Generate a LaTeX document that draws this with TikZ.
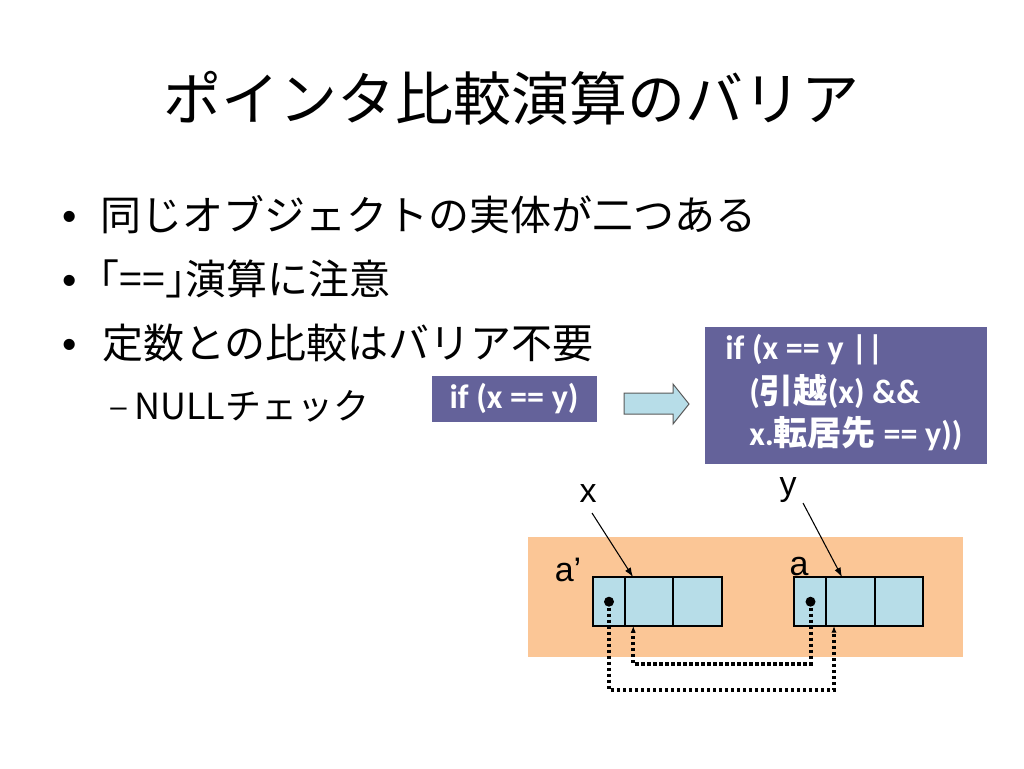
\documentclass[tikz,border=0pt]{standalone}
\usepackage{fontspec}
\setmainfont{Liberation Sans}
\newfontfamily\jp{Noto Sans CJK JP}
\newfontfamily\jph[RawFeature=+halt]{Noto Sans CJK JP}
\newfontfamily\cb{Carlito}
\newcommand\cbb{\cb\bfseries}
\newcommand\jpb{\jp\bfseries}
\usetikzlibrary{arrows.meta}
\definecolor{purp}{RGB}{100,98,154}
\definecolor{cellblue}{RGB}{183,221,232}
\definecolor{heapor}{RGB}{251,198,150}
\begin{document}
\begin{tikzpicture}[x=0.75pt,y=-0.75pt,
  titletext/.style={anchor=base, inner sep=0, font={\jp\fontsize{43.5pt}{50pt}\selectfont}},
  bullettext/.style={anchor=base west, inner sep=0, font={\jp\fontsize{30.75pt}{36pt}\selectfont}},
  bulletmark/.style={anchor=base, inner sep=0, font={\fontsize{30.75pt}{36pt}\selectfont}},
  subtext/.style={anchor=base west, inner sep=0, font={\jp\fontsize{27pt}{32pt}\selectfont}},
  codebox/.style={fill=purp, inner sep=0, outer sep=0, text=white, font={\cbb\fontsize{25.5pt}{30pt}\selectfont}},
  codetext/.style={anchor=base west, inner sep=0, text=white, font={\cbb\fontsize{25.5pt}{30pt}\selectfont}},
  cell/.style={draw=black, fill=cellblue, line width=0.9pt, inner sep=0, outer sep=0, minimum height=36.75pt},
  dotmark/.style={circle, fill=black, inner sep=0, minimum size=7.5pt},
  lbl/.style={anchor=base, inner sep=0, font={\fontsize{25.5pt}{30pt}\selectfont}},
  ptr/.style={draw=black, line width=0.8pt, -{Latex[length=7pt,width=5pt]}},
  dotptr/.style={draw=black, line width=3pt, dash pattern=on 2.4pt off 2.1pt, -{Latex[length=5pt,width=4pt]}}
]
\useasboundingbox (0,0) rectangle (1024,768);
\fill[white] (0,0) rectangle (1024,768);

% title
\node[titletext] (title) at (511,120) {ポインタ比較演算のバリア};

% bullets
\node[bulletmark] (b1) at (70,230) {•};
\node[bullettext] (t1) at (100,230) {同じオブジェクトの実体が二つある};
\node[bulletmark] (b2) at (70,294) {•};
\node[bullettext, font={\jph\fontsize{30.75pt}{36pt}\selectfont}] (t2) at (99,294) {「==」演算に注意};
\node[bulletmark] (b3) at (70,358) {•};
\node[bullettext] (t3) at (102,358) {定数との比較はバリア不要};
\node[anchor=base, inner sep=0, font={\fontsize{22pt}{26pt}\selectfont}] (d4) at (118.5,416) {–};
\node[subtext] (t4) at (134,419) {NULLチェック};

% code boxes
\node[codebox, minimum width=123.75pt, minimum height=34.5pt] (cond) at (514,399) {if (x == y)};
\draw[fill=cellblue, draw=black!65, line width=0.75pt]
  (624,393) -- (673,393) -- (673,384) -- (689,404) -- (673,424) -- (673,414) -- (624,414) -- cycle;
\node[codebox, minimum width=211.5pt, minimum height=102.75pt] (barrier) at (846,395.5) {};
\node[codetext] (c1) at (725,359) {if (x == y ||};
\node[codetext] (c2) at (749,403) {({\jpb 引越}(x) \&\&};
\node[codetext] (c3) at (749,445) {x.{\jpb 転居先} == y))};

% heap
\node[fill=heapor, inner sep=0, outer sep=0, minimum width=326.25pt, minimum height=90pt] (heap) at (745.5,597) {};

% objects
\node[cell, minimum width=24pt] (l1) at (609,601.5) {};
\node[cell, minimum width=36pt] (l2) at (649,601.5) {};
\node[cell, minimum width=36.75pt] (l3) at (697.5,601.5) {};
\node[cell, minimum width=24pt] (r1) at (810,601.5) {};
\node[cell, minimum width=36.75pt] (r2) at (850.5,601.5) {};
\node[cell, minimum width=36pt] (r3) at (899,601.5) {};

\node[dotmark] (ld) at (609,601.7) {};
\node[dotmark] (rd) at (810.5,601.7) {};

% labels
\node[lbl] (al) at (568,581) {a’};
\node[lbl] (ar) at (799,575) {a};
\node[lbl] (xl) at (588,502) {x};
\node[lbl] (yl) at (788,495) {y};

\coordinate (xs) at (592,513);
\coordinate (ys) at (803,503);
\draw[ptr] (xs) -- ([xshift=6pt]l2.north west);
\draw[ptr] (ys) -- ([xshift=12pt]r2.north west);

% forwarding pointers
\draw[dotptr] (rd.center) -- ++(0,62) -| ([xshift=6.2pt]l2.south west);
\draw[dotptr] (ld.center) -- ++(0,88) -| ([xshift=6pt]r2.south west);
\end{tikzpicture}
\end{document}
